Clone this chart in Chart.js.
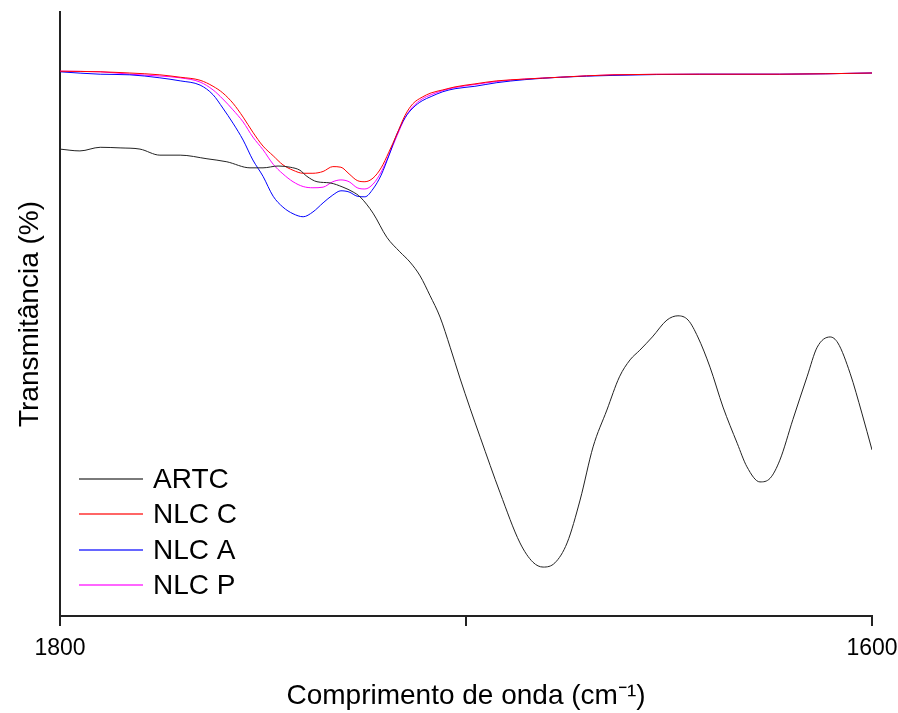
<!DOCTYPE html>
<html>
<head>
<meta charset="utf-8">
<script src="https://cdn.jsdelivr.net/npm/chart.js@4.4.1/dist/chart.umd.min.js"></script>
<style>
  html, body { margin: 0; padding: 0; background: #fff; }
  #wrap { width: 898px; height: 713px; }
</style>
</head>
<body>
<div id="wrap"><canvas id="c" width="898" height="713"></canvas></div>
<script>
// ---- Data (wavenumber in cm^-1, transmittance in arbitrary %) ----
const seriesNames = ['ARTC', 'NLC C', 'NLC A', 'NLC P'];
const seriesColors = ['#222222', '#ff0000', '#0000ff', '#ff00ff'];

const artcWavenumber = [1800.0, 1795.1, 1790.1, 1785.2, 1780.3, 1775.4, 1770.4, 1763.8, 1758.9, 1753.2,
  1750.0, 1746.3, 1743.3, 1740.9, 1739.2, 1736.7, 1733.5, 1730.3, 1727.8, 1726.1,
  1722.9, 1719.5, 1716.3, 1713.8, 1711.3, 1708.9, 1706.4, 1703.9, 1701.5, 1699.0,
  1696.5, 1691.6, 1686.7, 1683.5, 1681.0, 1678.1, 1675.1, 1671.9, 1668.7, 1665.3,
  1662.2, 1659.6, 1657.2, 1654.1, 1650.5, 1647.8, 1645.3, 1642.9, 1639.9, 1636.7,
  1633.2, 1630.8, 1627.6, 1625.1, 1622.7, 1619.5, 1616.0, 1613.5, 1610.3, 1608.4,
  1605.4, 1602.5, 1600.0];
const artcTransmittance = [77.3, 77.0, 77.6, 77.5, 77.3, 76.3, 76.3, 75.7, 75.2, 74.2,
  74.2, 74.5, 74.3, 73.8, 72.8, 71.9, 71.7, 71.0, 70.2, 69.4,
  66.7, 62.7, 60.3, 58.6, 56.3, 53.1, 49.5, 44.5, 39.4, 34.4,
  29.6, 20.4, 12.1, 8.9, 8.1, 8.8, 12.1, 19.2, 28.0, 34.1,
  39.6, 42.4, 44.0, 46.2, 49.0, 49.7, 49.0, 46.2, 41.2, 34.6,
  28.6, 24.7, 22.2, 22.8, 25.8, 32.5, 39.6, 44.5, 46.2, 45.2,
  40.2, 33.6, 27.5];

const nlcWavenumber = [1800.0, 1790.1, 1782.8, 1775.4, 1770.4, 1765.5, 1762.3, 1759.9, 1757.4, 1754.9,
  1752.5, 1750.0, 1747.5, 1745.1, 1742.6, 1740.1, 1737.7, 1735.2, 1732.8, 1730.8,
  1728.8, 1726.8, 1724.9, 1722.9, 1720.9, 1719.0, 1717.0, 1715.0, 1713.1, 1710.8,
  1708.6, 1705.7, 1702.7, 1697.8, 1692.4, 1685.5, 1676.8, 1663.8, 1642.4, 1622.7, 1600.0];
const nlcCTransmittance = [90.2, 90.1, 89.9, 89.6, 89.2, 88.7, 87.7, 86.6, 84.9, 82.6,
  80.1, 77.8, 76.2, 74.7, 73.8, 73.3, 73.3, 73.6, 74.4, 74.3,
  73.2, 72.1, 71.9, 72.5, 74.2, 76.8, 79.8, 82.9, 84.8, 85.9,
  86.6, 87.1, 87.6, 88.1, 88.6, 88.9, 89.2, 89.6, 89.7, 89.7, 89.9];
const nlcATransmittance = [90.1, 89.7, 89.6, 89.1, 88.6, 87.9, 86.3, 84.1, 81.6, 78.8,
  75.5, 72.8, 69.5, 67.7, 66.6, 66.1, 66.9, 68.4, 69.7, 70.4,
  70.2, 69.5, 69.4, 70.7, 73.0, 76.2, 79.8, 82.5, 84.1, 85.3,
  86.0, 86.8, 87.3, 87.7, 88.3, 88.8, 89.2, 89.5, 89.7, 89.7, 89.9];
const nlcPTransmittance = [90.2, 90.1, 89.7, 89.4, 89.1, 88.4, 87.1, 85.6, 83.8, 81.8,
  79.3, 77.2, 74.8, 73.2, 71.9, 71.1, 70.9, 71.0, 71.9, 72.2,
  71.9, 70.9, 70.7, 71.5, 73.5, 76.3, 79.5, 82.5, 84.3, 85.6,
  86.3, 87.0, 87.5, 88.0, 88.5, 88.9, 89.2, 89.6, 89.7, 89.7, 89.9];

const xTickValues = [1800, 1700, 1600];
const xTickLabels = ['1800', '', '1600'];
const xTitle = 'Comprimento de onda (cm\u207B\u00B9)';
const yTitle = 'Transmitância (%)';

// ---- build ----
function pairs(xs, ys) { return xs.map((x, i) => ({ x: x, y: ys[i] })); }
const seriesData = [
  pairs(artcWavenumber, artcTransmittance),
  pairs(nlcWavenumber, nlcCTransmittance),
  pairs(nlcWavenumber, nlcATransmittance),
  pairs(nlcWavenumber, nlcPTransmittance)
];

const FONT = '"Liberation Sans", Arial, sans-serif';

const insideLegend = {
  id: 'insideLegend',
  afterDatasetsDraw(chart) {
    const ctx = chart.ctx;
    const x0 = 79, x1 = 143, tx = 153, y0 = 479, dy = 35.3;
    ctx.save();
    ctx.font = '28px ' + FONT;
    ctx.textBaseline = 'middle';
    ctx.textAlign = 'left';
    chart.data.datasets.forEach((ds, i) => {
      const y = Math.round(y0 + i * dy);
      ctx.strokeStyle = ds.borderColor;
      ctx.globalAlpha = 0.6;
      ctx.lineWidth = 2;
      ctx.beginPath();
      ctx.moveTo(x0, y);
      ctx.lineTo(x1, y);
      ctx.stroke();
      ctx.globalAlpha = 1;
      ctx.fillStyle = '#000';
      ctx.fillText(ds.label, tx, y + 1);
    });
    ctx.restore();
  }
};

new Chart(document.getElementById('c'), {
  type: 'line',
  data: {
    datasets: seriesNames.map((name, i) => ({
      label: name,
      data: seriesData[i],
      borderColor: seriesColors[i],
      borderWidth: 1,
      pointRadius: 0,
      fill: false,
      cubicInterpolationMode: 'monotone'
    }))
  },
  options: {
    responsive: false,
    animation: false,
    devicePixelRatio: 1,
    layout: { padding: { top: 12, right: 26, left: 0, bottom: 0 } },
    plugins: { legend: { display: false }, tooltip: { enabled: false } },
    scales: {
      x: {
        type: 'linear',
        reverse: true,
        min: 1600,
        max: 1800,
        afterBuildTicks(scale) { scale.ticks = xTickValues.map(v => ({ value: v })); },
        afterFit(scale) { scale.height = 97; scale.paddingLeft = 0; scale.paddingRight = 0; },
        ticks: {
          autoSkip: false,
          maxRotation: 0,
          padding: 9,
          color: '#000',
          font: { family: FONT, size: 23 },
          callback(value) { return xTickLabels[xTickValues.indexOf(value)]; }
        },
        grid: { display: true, drawOnChartArea: false, drawTicks: true, tickLength: 10, color: '#222', lineWidth: 2 },
        border: { display: true, color: '#222', width: 2 },
        title: { display: true, text: xTitle, color: '#000', font: { family: FONT, size: 28 }, padding: { top: 0, bottom: 0 } }
      },
      y: {
        type: 'linear',
        min: 0,
        max: 100,
        afterFit(scale) { scale.width = 60; },
        ticks: { display: false },
        grid: { display: false },
        border: { display: true, color: '#222', width: 2 },
        title: { display: true, text: yTitle, color: '#000', font: { family: FONT, size: 28 }, padding: { top: 13, bottom: 0 } }
      }
    }
  },
  plugins: [insideLegend]
});
</script>
</body>
</html>
